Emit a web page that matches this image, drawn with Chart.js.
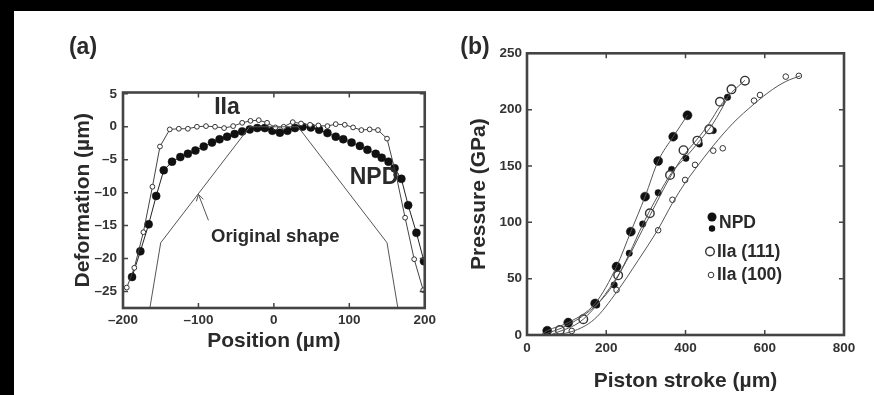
<!DOCTYPE html>
<html>
<head>
<meta charset="utf-8">
<script src="https://cdn.jsdelivr.net/npm/chart.js@4.4.0/dist/chart.umd.min.js"></script>
<style>
  html, body { margin: 0; padding: 0; background: #000; }
  #page { position: absolute; left: 14px; top: 11px; width: 860px; height: 384px; background: #fff; overflow: hidden; }
  #chartA { position: absolute; left: 0; top: 0; }
  #chartB { position: absolute; left: 426px; top: 0; }
</style>
</head>
<body>
<div id="page">
  <canvas id="chartA" width="426" height="384"></canvas>
  <canvas id="chartB" width="434" height="384"></canvas>
</div>
<script>
// ---- panel (a): deformation profile ----
const iiaX = [-195, -185, -173, -161, -151, -138, -126, -114, -102, -90, -78, -66, -54, -42, -31, -20, -9, 2, 13, 25, 36, 48, 59, 71, 82, 94, 105, 116, 127, 138, 150, 162, 174, 186, 198];
const iiaY = [-24.4, -21.4, -16.0, -9.1, -3.0, -0.4, -0.3, -0.3, 0.0, 0.1, 0.0, -0.2, 0.1, 0.6, 0.9, 1.0, 0.6, -0.1, 0.0, 0.7, 0.5, 0.3, 0.2, 0.1, 0.4, 0.3, -0.1, -0.5, -0.4, -0.5, -1.8, -7.3, -13.8, -20.1, -24.8];
const npdX = [-188, -177, -166, -156, -146, -135, -124, -114, -104, -93, -82, -72, -62, -52, -42, -32, -22, -12, -2, 8, 18, 28, 38, 49, 60, 71, 82, 92, 103, 114, 124, 135, 143, 152, 160, 169, 178, 189, 199];
const npdY = [-22.8, -18.9, -14.8, -10.5, -6.6, -5.3, -4.6, -4.1, -3.6, -3.0, -2.4, -1.9, -1.5, -1.1, -0.7, -0.4, -0.2, -0.2, -0.6, -0.9, -0.6, -0.2, 0.0, -0.1, -0.45, -0.95, -1.5, -1.9, -2.4, -2.9, -3.5, -4.1, -4.7, -5.3, -6.3, -7.9, -11.9, -16.1, -20.4];
const shapeX = [-168, -150, -32, 32, 150, 168];
const shapeY = [-30, -17.6, 0, 0, -17.6, -30];
const xTicksA = [-200, -100, 0, 100, 200];
const yTicksA = [-25, -20, -15, -10, -5, 0, 5];

// ---- panel (b): pressure vs piston stroke ----
// measured points
const npdBigX = [51, 104, 172, 226, 262, 298, 331, 369, 405];
const npdBigY = [3.8, 11, 28, 60.7, 91.7, 122.8, 154.4, 176, 195];
const npdSmallX = [51, 104, 176, 220, 258, 292, 331, 365, 401, 435, 470, 506];
const npdSmallY = [3.5, 10, 26.6, 44.4, 72.5, 98.5, 126.3, 147, 156.8, 169.5, 181.4, 211];
const iia111X = [83, 142, 230, 310, 361, 395, 430, 460, 487, 516, 550];
const iia111Y = [4.4, 14, 53, 108, 142, 164, 172.5, 182.5, 207, 218, 225.7];
const iia100X = [113, 226, 331, 367, 399, 424, 470, 494, 573, 588, 653, 686];
const iia100Y = [3.6, 40, 93, 120, 137.6, 151, 163.6, 165.7, 208, 213, 229.3, 230];
// smooth guide curves drawn through each set
const fitNpdBigX = [35, 51, 104, 172, 226, 262, 298, 331, 369, 405];
const fitNpdBigY = [0, 3.8, 11, 28, 60.7, 91.7, 122.8, 154.4, 176, 195];
const fitNpdSmallX = [40, 104, 176, 220, 258, 292, 331, 365, 401, 435, 470, 506];
const fitNpdSmallY = [0, 9, 27, 46, 72, 98, 124, 144, 158, 172, 188, 210];
const fit111X = [60, 142, 230, 310, 361, 395, 430, 460, 487, 516, 550];
const fit111Y = [0, 14, 53, 106, 140, 159, 174, 188, 203, 215, 226];
const fit100X = [50, 113, 170, 226, 280, 331, 367, 399, 424, 470, 520, 573, 620, 653, 690];
const fit100Y = [0, 3, 14, 38, 66, 94, 117, 135, 147, 168, 188, 205, 218, 225, 230];
const xTicksB = [0, 200, 400, 600, 800];
const yTicksB = [0, 50, 100, 150, 200, 250];

const FONT = '"Liberation Sans", Arial, sans-serif';
const INK = '#2a2a2a';

function pts(xs, ys) {
  return xs.map((x, i) => ({ x: x, y: ys[i] }));
}

function dashLabel(v) {
  return v < 0 ? '\u2013' + Math.abs(v) : String(v);
}

// frame + inward ticks on all four sides
const framePlugin = {
  id: 'frame',
  afterDatasetsDraw(chart, args, opts) {
    const { ctx, chartArea: a, scales } = chart;
    const len = 5;
    ctx.save();
    ctx.strokeStyle = '#444';
    ctx.lineWidth = 1.5;
    ctx.beginPath();
    opts.xTicks.forEach(v => {
      const x = scales.x.getPixelForValue(v);
      ctx.moveTo(x, a.bottom); ctx.lineTo(x, a.bottom - len);
      ctx.moveTo(x, a.top); ctx.lineTo(x, a.top + len);
    });
    opts.yTicks.forEach(v => {
      const y = scales.y.getPixelForValue(v);
      ctx.moveTo(a.left, y); ctx.lineTo(a.left + len, y);
      ctx.moveTo(a.right, y); ctx.lineTo(a.right - len, y);
    });
    ctx.stroke();
    ctx.lineWidth = 2.6;
    ctx.strokeRect(a.left, a.top, a.right - a.left, a.bottom - a.top);
    ctx.restore();
  }
};

function scaleOpts(min, max, ticks, title, titlePad, labelPad, fitSize, horizontal) {
  return {
    type: 'linear',
    min: min,
    max: max,
    grid: { display: false, drawTicks: false },
    border: { display: false },
    afterBuildTicks: s => { s.ticks = ticks.map(v => ({ value: v })); },
    afterFit: s => { if (horizontal) s.height = fitSize; else s.width = fitSize; },
    ticks: {
      padding: labelPad,
      color: '#333',
      font: { family: FONT, size: 13.5, weight: 'bold' },
      callback: v => dashLabel(v)
    },
    title: {
      display: true,
      text: title,
      color: INK,
      padding: titlePad,
      font: { family: FONT, size: 21, weight: 'bold' }
    }
  };
}

// ---- chart (a) ----
const annotA = {
  id: 'annotA',
  afterDraw(chart) {
    const { ctx, scales } = chart;
    ctx.save();
    ctx.fillStyle = INK;
    ctx.textBaseline = 'middle';
    ctx.textAlign = 'center';
    ctx.font = 'bold 23px ' + FONT;
    ctx.fillText('(a)', 69, 37);
    ctx.font = 'bold 23px ' + FONT;
    ctx.fillText('IIa', 213, 97);
    ctx.fillText('NPD', 360, 167);
    ctx.textAlign = 'left';
    ctx.font = 'bold 18.5px ' + FONT;
    ctx.fillText('Original shape', 197, 226);
    // arrow to the original shape outline
    const tx = scales.x.getPixelForValue(-100);
    const ty = scales.y.getPixelForValue(-10.1);
    ctx.strokeStyle = '#555';
    ctx.lineWidth = 1;
    ctx.beginPath();
    ctx.moveTo(tx + 10, ty + 27);
    ctx.lineTo(tx, ty + 1);
    ctx.moveTo(tx - 2, ty + 8);
    ctx.lineTo(tx, ty + 1);
    ctx.lineTo(tx + 5, ty + 6);
    ctx.stroke();
    ctx.restore();
  }
};

new Chart(document.getElementById('chartA'), {
  type: 'scatter',
  data: {
    datasets: [
      {
        label: 'Original shape',
        data: pts(shapeX, shapeY),
        showLine: true,
        borderColor: '#555',
        borderWidth: 1,
        pointRadius: 0
      },
      {
        label: 'IIa',
        data: pts(iiaX, iiaY),
        showLine: true,
        borderColor: '#444',
        borderWidth: 1,
        pointRadius: 2.4,
        pointBorderWidth: 1,
        pointBorderColor: '#333',
        pointBackgroundColor: '#fff'
      },
      {
        label: 'NPD',
        data: pts(npdX, npdY),
        showLine: true,
        borderColor: '#222',
        borderWidth: 1,
        pointRadius: 4,
        pointBorderWidth: 0.5,
        pointBorderColor: '#111',
        pointBackgroundColor: '#111'
      }
    ]
  },
  options: {
    responsive: false,
    animation: false,
    layout: { padding: { top: 81.5, right: 4, left: 0, bottom: 0 } },
    plugins: {
      legend: { display: false },
      tooltip: { enabled: false },
      frame: { xTicks: xTicksA, yTicks: yTicksA }
    },
    scales: {
      x: scaleOpts(-200, 200, xTicksA, 'Position (\u00b5m)', { top: 0, bottom: 41.4 }, 4, 87, true),
      y: scaleOpts(-27.5, 5.2, yTicksA, 'Deformation (\u00b5m)', { top: 56.4, bottom: 0 }, 6, 109, false)
    }
  },
  plugins: [framePlugin, annotA]
});

// ---- chart (b) ----
const annotB = {
  id: 'annotB',
  afterDraw(chart) {
    const { ctx } = chart;
    ctx.save();
    ctx.fillStyle = INK;
    ctx.textBaseline = 'middle';
    ctx.textAlign = 'center';
    ctx.font = 'bold 23px ' + FONT;
    ctx.fillText('(b)', 35, 37);
    // legend
    ctx.fillStyle = '#111';
    ctx.beginPath(); ctx.arc(272, 206, 4.5, 0, Math.PI * 2); ctx.fill();
    ctx.beginPath(); ctx.arc(272, 217.5, 3.2, 0, Math.PI * 2); ctx.fill();
    ctx.fillStyle = '#fff';
    ctx.strokeStyle = '#333';
    ctx.lineWidth = 1.4;
    ctx.beginPath(); ctx.arc(270, 240.5, 4.3, 0, Math.PI * 2); ctx.fill(); ctx.stroke();
    ctx.lineWidth = 1;
    ctx.beginPath(); ctx.arc(271, 264, 2.8, 0, Math.PI * 2); ctx.fill(); ctx.stroke();
    ctx.fillStyle = INK;
    ctx.textAlign = 'left';
    ctx.font = 'bold 17.5px ' + FONT;
    ctx.fillText('NPD', 279, 212);
    ctx.fillText('IIa (111)', 277, 241);
    ctx.fillText('IIa (100)', 277, 264.5);
    ctx.restore();
  }
};

function curve(xs, ys) {
  return {
    data: pts(xs, ys),
    showLine: true,
    borderColor: '#555',
    borderWidth: 1,
    pointRadius: 0,
    cubicInterpolationMode: 'monotone'
  };
}

function marks(xs, ys, r, filled, bw) {
  return {
    data: pts(xs, ys),
    showLine: false,
    pointRadius: r,
    pointBorderWidth: bw,
    pointBorderColor: filled ? '#111' : '#333',
    pointBackgroundColor: filled ? '#111' : '#fff'
  };
}

new Chart(document.getElementById('chartB'), {
  type: 'scatter',
  data: {
    datasets: [
      curve(fit100X, fit100Y),
      curve(fit111X, fit111Y),
      curve(fitNpdSmallX, fitNpdSmallY),
      curve(fitNpdBigX, fitNpdBigY),
      Object.assign({ label: 'IIa (100)' }, marks(iia100X, iia100Y, 2.8, false, 1)),
      Object.assign({ label: 'IIa (111)' }, marks(iia111X, iia111Y, 4.3, false, 1.4)),
      Object.assign({ label: 'NPD' }, marks(npdSmallX, npdSmallY, 3.2, true, 0.5)),
      Object.assign({ label: 'NPD' }, marks(npdBigX, npdBigY, 4.5, true, 0.5))
    ]
  },
  options: {
    responsive: false,
    animation: false,
    layout: { padding: { top: 42.3, right: 30, left: 0, bottom: 0 } },
    plugins: {
      legend: { display: false },
      tooltip: { enabled: false },
      frame: { xTicks: xTicksB, yTicks: yTicksB }
    },
    scales: {
      x: scaleOpts(0, 800, xTicksB, 'Piston stroke (\u00b5m)', { top: 0, bottom: 1.4 }, 5, 60, true),
      y: scaleOpts(0, 250, yTicksB, 'Pressure (GPa)', { top: 26.4, bottom: 0 }, 5, 87, false)
    }
  },
  plugins: [framePlugin, annotB]
});
</script>
</body>
</html>
